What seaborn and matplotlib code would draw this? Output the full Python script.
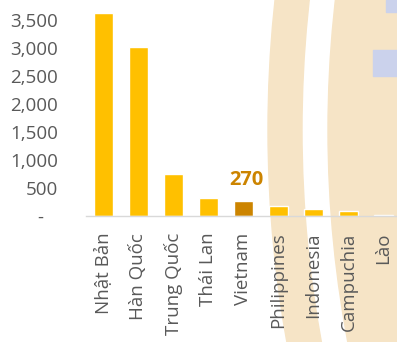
import matplotlib
matplotlib.use("Agg")
import matplotlib.pyplot as plt
from matplotlib.patches import Wedge, Circle, Rectangle
import seaborn as sns
import pandas as pd

categories = ["Nhật Bản", "Hàn Quốc", "Trung Quốc", "Thái Lan", "Vietnam",
              "Philippines", "Indonesia", "Campuchia", "Lào"]
values = [3620, 3025, 750, 315, 270, 180, 120, 95, 18]
highlight = "Vietnam"
highlight_label = "270"
yticks = [0, 500, 1000, 1500, 2000, 2500, 3000, 3500]
ytick_labels = ["-   ", "500", "1,000", "1,500", "2,000", "2,500", "3,000", "3,500"]

gold = "#FFC000"
dark = "#CC8400"
text_gray = "#595959"

sns.set_style("white")
plt.rcParams["font.family"] = ["Open Sans", "DejaVu Sans"]

df = pd.DataFrame({"country": categories, "value": values})
palette = {c: (dark if c == highlight else gold) for c in categories}

fig = plt.figure(figsize=(3.97, 3.42), dpi=100)

# faint watermark behind the chart
beige = "#F6E4C6"
fig.patches.append(Wedge((1472, 212), 1204, 0, 360, width=34, color=beige,
                         transform=None, zorder=-5))
fig.patches.append(Circle((1472, 212), 1144, color=beige, transform=None, zorder=-5))
fig.patches.append(Rectangle((386, 330), 12, 12, color="#CBD2EC", transform=None, zorder=-4))
fig.patches.append(Rectangle((373, 266), 25, 26, color="#CBD2EC", transform=None, zorder=-4))

ax = fig.add_axes([86 / 397, 126 / 342, 315 / 397, 216 / 342])
ax.set_zorder(2)
ax.patch.set_alpha(0)

sns.barplot(data=df, x="country", y="value", hue="country", palette=palette,
            width=0.53, legend=False, saturation=1, ax=ax)

ax.set_xlim(-0.5, 8.5)
ax.set_ylim(0, 3857)
ax.set_yticks(yticks)
ax.set_yticklabels(ytick_labels)
ax.set_xlabel("")
ax.set_ylabel("")

for s in ["top", "right", "left"]:
    ax.spines[s].set_visible(False)
ax.spines["bottom"].set_color("#D9D9D9")
ax.spines["bottom"].set_linewidth(1.0)

ax.tick_params(axis="y", length=0, pad=20, labelsize=13.5, labelcolor=text_gray)
ax.tick_params(axis="x", length=0, pad=12, labelsize=13.5, labelcolor=text_gray)
plt.setp(ax.get_xticklabels(), rotation=90)

hi = categories.index(highlight)
ax.annotate(highlight_label, xy=(hi, values[hi]), xytext=(2, 11.5),
            textcoords="offset points", ha="center", va="baseline",
            fontsize=14.5, fontweight="bold", color=dark)

fig.savefig("out.png", dpi=100)
